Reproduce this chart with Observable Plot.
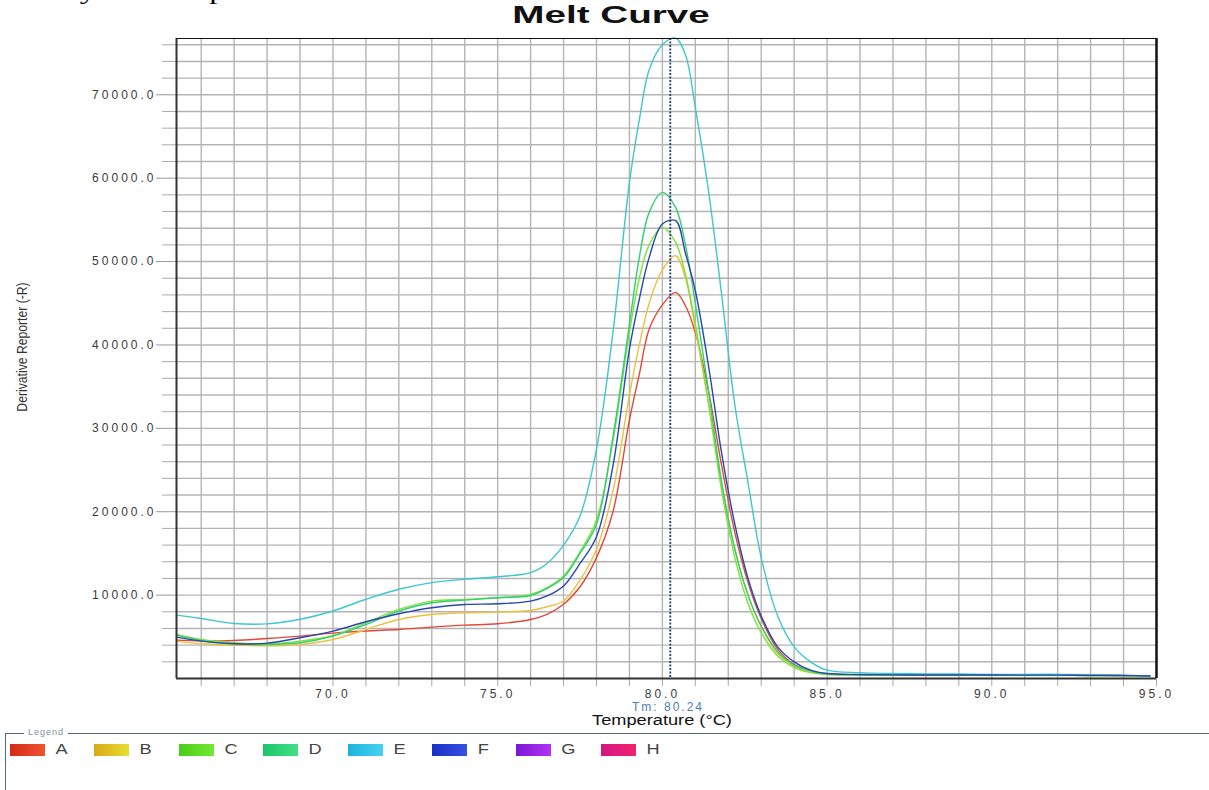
<!DOCTYPE html>
<html><head><meta charset="utf-8">
<script src="https://cdn.jsdelivr.net/npm/d3@7"></script>
<script src="https://cdn.jsdelivr.net/npm/@observablehq/plot@0.6"></script>
<style>
body{margin:0;background:#fff;width:1209px;height:790px;overflow:hidden;position:relative;font-family:"Liberation Sans",Arial,sans-serif}
#chart{position:absolute;left:0;top:0;z-index:0}
#chart svg text{letter-spacing:3px}
.abs{position:absolute;white-space:nowrap;z-index:2}
#frag{left:-40px;top:-21px;font:24px/24px "Liberation Serif","Times New Roman",serif;color:#000;transform:scaleX(1.36);transform-origin:left top}
#title{left:411px;width:400px;top:2px;text-align:center;font-weight:bold;font-size:23px;color:#111;transform:scaleX(1.68)}
#ylab{left:22px;top:347px;font-size:14px;color:#333;transform:translate(-50%,-50%) rotate(-90deg) scaleX(0.87)}
#tm{left:568px;width:200px;top:700px;text-align:center;font-size:12px;letter-spacing:2px;color:#4a7fb5}
#xlab{left:562px;width:200px;top:712px;text-align:center;font-size:14px;color:#111;transform:scaleX(1.3)}
#legbox{left:5px;top:733px;right:0;height:70px;border-top:1px solid #55687a;border-left:1px solid #55687a}
#legword{left:24px;top:727px;font-size:9px;color:#7d8fa0;background:#fff;padding:0 4px;letter-spacing:1px;z-index:3}
.sw{position:absolute;top:744px;width:35px;height:12px;z-index:2}
.lt{position:absolute;top:741px;font-size:14px;color:#444;z-index:2}
</style></head><body>
<div id="frag" class="abs">specificity of PCR products</div>
<div id="title" class="abs">Melt Curve</div>
<div id="chart"></div>
<div id="ylab" class="abs">Derivative Reporter (-R)</div>
<div id="tm" class="abs"></div>
<div id="xlab" class="abs">Temperature (°C)</div>
<div id="legbox" class="abs"></div>
<div id="legword" class="abs">Legend</div>
<div id="legend"></div>
<script>
const temps = [65.25, 66, 67, 68, 69, 70, 71, 72, 73, 74, 75, 76, 76.5, 77, 77.5, 78, 78.5, 79, 79.3, 79.6, 80, 80.4, 80.7, 81, 81.4, 81.8, 82.2, 82.6, 83, 83.5, 84, 84.5, 85, 86, 87, 88, 89, 90, 91, 92, 93, 94, 94.8];
const seriesA = [4600, 4500, 4560, 4800, 5080, 5440, 5700, 5880, 6160, 6400, 6560, 7080, 7700, 8900, 11000, 14500, 20000, 31000, 36500, 41900, 44800, 46300, 44700, 41500, 34500, 25500, 17500, 11500, 7200, 3500, 1700, 900, 550, 450, 420, 400, 420, 400, 380, 380, 360, 350, 300];
const seriesB = [4480, 4160, 4000, 3920, 4080, 4680, 5880, 7080, 7680, 7880, 7960, 8160, 8600, 9300, 11800, 15500, 22500, 34000, 40000, 45000, 49000, 50700, 48000, 42000, 33000, 23500, 15500, 10000, 6200, 3000, 1500, 800, 520, 450, 420, 400, 400, 400, 380, 380, 360, 350, 300];
const seriesC = [5280, 4680, 4280, 4160, 4480, 5160, 6680, 8280, 9280, 9480, 9680, 10080, 10900, 12300, 15200, 19000, 28500, 41500, 48000, 52000, 54100, 52300, 48500, 42500, 33000, 22500, 14500, 9000, 5500, 2700, 1300, 700, 480, 420, 400, 400, 400, 400, 380, 380, 360, 350, 300];
const seriesD = [5200, 4560, 4160, 4080, 4280, 5080, 6480, 8080, 9080, 9400, 9680, 9960, 10800, 12100, 15000, 18500, 29000, 42500, 50500, 55900, 58300, 56500, 52000, 45000, 34500, 23500, 15500, 10000, 6300, 3200, 1600, 900, 560, 450, 420, 400, 400, 400, 380, 380, 360, 350, 300];
const seriesE = [7600, 7200, 6600, 6550, 7100, 8100, 9500, 10700, 11500, 11900, 12200, 12700, 13800, 16000, 19500, 27500, 41500, 59500, 67000, 73000, 76000, 76800, 74800, 68500, 58500, 46000, 32800, 23500, 14500, 7500, 3800, 2000, 1000, 700, 600, 550, 550, 500, 500, 500, 450, 400, 300];
const seriesF = [4960, 4480, 4160, 4240, 4880, 5680, 6800, 7760, 8480, 8880, 8960, 9280, 9900, 11100, 13800, 17000, 25500, 39500, 45500, 50500, 54500, 54900, 51000, 46500, 37500, 27000, 18500, 12000, 7500, 3800, 2000, 1000, 600, 480, 430, 420, 420, 420, 400, 400, 380, 360, 300];
const wellNames = ["A", "B", "C", "D", "E", "F", "G", "H"];
const lineColors = ["#e2483a", "#ecc040", "#7fe03c", "#2fd073", "#3ec6d2", "#2a46b0", "#9a22e0", "#e01a80"];
const swatchFrom = ["#d42a18", "#d8a818", "#48cc18", "#1cc468", "#1cb4dc", "#1c2ec4", "#7c16d4", "#d41680"];
const swatchTo = ["#f05432", "#e6e032", "#74ea34", "#44e084", "#44d2f2", "#3452e2", "#b234f2", "#f0246e"];
const xTicks = [70, 75, 80, 85, 90, 95];
const yTicks = [10000, 20000, 30000, 40000, 50000, 60000, 70000];
const tm = 80.24;

const seriesValues = [seriesA, seriesB, seriesC, seriesD, seriesE, seriesF];
const rows = seriesValues.flatMap((vals, s) => temps.map((t, i) => ({t, v: vals[i], name: wellNames[s]})));

const chart = Plot.plot({
  width: 1209, height: 700,
  marginLeft: 176, marginRight: 53, marginTop: 38, marginBottom: 22,
  x: {domain: [65.25, 95], label: null},
  y: {domain: [0, 76750], label: null},
  color: {domain: wellNames, range: lineColors},
  style: {fontFamily: "'Liberation Sans', Arial, sans-serif", fontSize: "12px", color: "#3a3a3a", background: "transparent"},
  marks: [
    Plot.gridX(d3.range(66, 95), {stroke: "#b4b4b4", strokeOpacity: 1, strokeWidth: 1.4}),
    Plot.gridY(d3.range(2000, 76001, 2000), {stroke: "#b4b4b4", strokeOpacity: 1, strokeWidth: 1.4}),
    Plot.axisX(d3.range(66, 95).filter(d => d % 5), {tickSize: 8, tickFormat: () => "", stroke: "#a8a8a8", label: null}),
    Plot.axisX(xTicks, {tickSize: 8, tickPadding: 3, tickFormat: d => d.toFixed(1), stroke: "#a8a8a8", label: null}),
    Plot.axisY(d3.range(2000, 76001, 2000).filter(d => d % 10000), {tickSize: 14, tickFormat: () => "", stroke: "#aaaaaa", label: null}),
    Plot.axisY(yTicks, {tickSize: 20, tickPadding: 0, tickFormat: d => d.toFixed(1), stroke: "#999999", label: null}),
    Plot.line(rows, {x: "t", y: "v", z: "name", stroke: "name", curve: "catmull-rom", strokeWidth: 1.4}),
    Plot.ruleX([tm], {stroke: "#1c3f7a", strokeDasharray: "2,1.5", strokeWidth: 1.8}),
    Plot.ruleY([0], {stroke: "#333", strokeWidth: 2}),
    Plot.ruleX([65.25], {stroke: "#333", strokeWidth: 2}),
    Plot.ruleX([95], {stroke: "#111", strokeWidth: 2.5}),
    Plot.ruleY([76750], {stroke: "#111", strokeWidth: 1.2})
  ]
});
document.getElementById("chart").appendChild(chart);
document.getElementById("tm").textContent = "Tm: " + tm.toFixed(2);

const leg = document.getElementById("legend");
wellNames.forEach((n, i) => {
  const x = 10 + i * 84.4;
  const sw = document.createElement("div");
  sw.className = "sw";
  sw.style.left = x + "px";
  sw.style.background = `linear-gradient(to right, ${swatchFrom[i]}, ${swatchTo[i]})`;
  leg.appendChild(sw);
  const lt = document.createElement("div");
  lt.className = "lt";
  lt.style.left = (x + 47) + "px";
  lt.style.transform = "scaleX(1.3)";
  lt.textContent = n;
  leg.appendChild(lt);
});
</script>
</body></html>
